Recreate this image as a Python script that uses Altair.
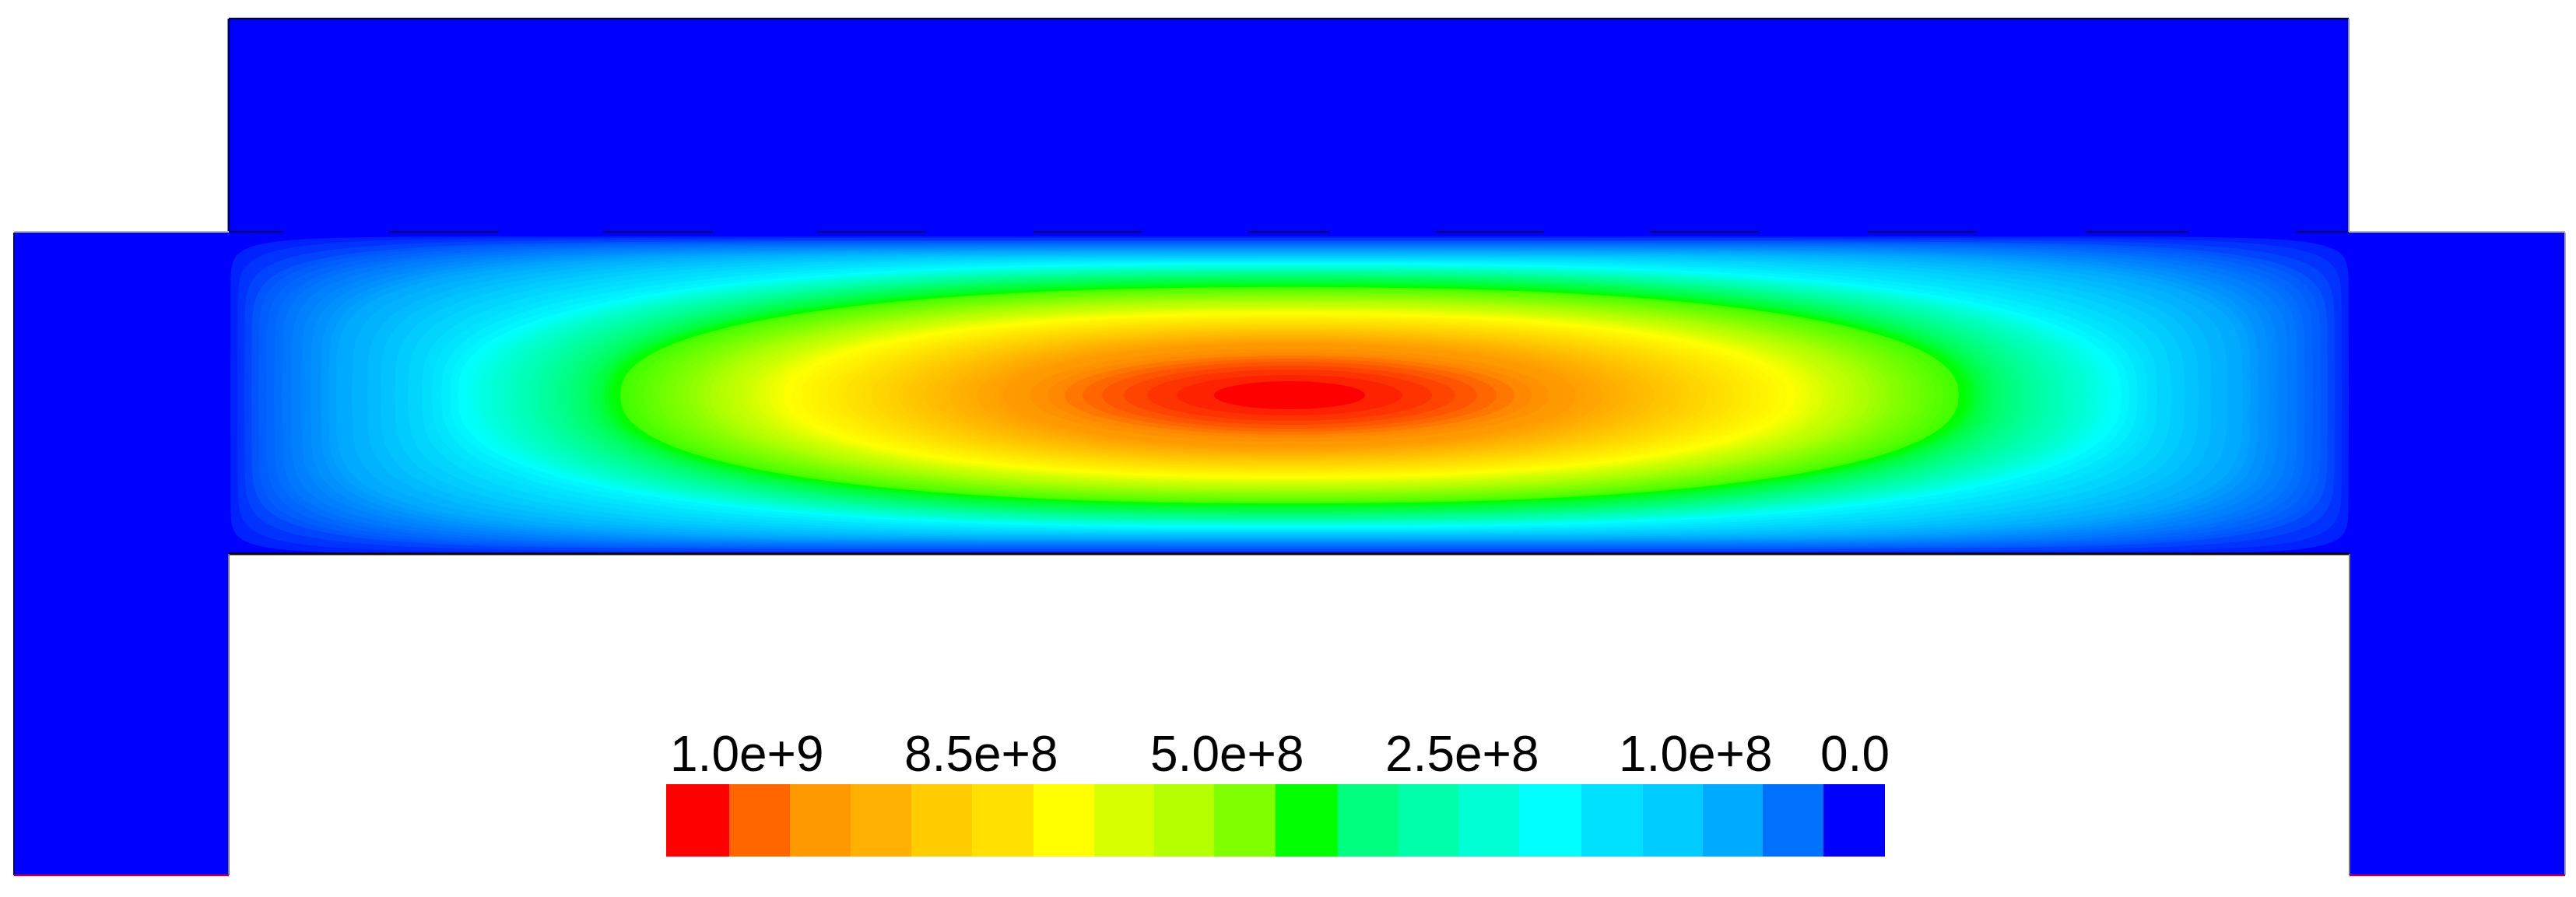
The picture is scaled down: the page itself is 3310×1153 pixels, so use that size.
import math
import altair as alt
import pandas as pd

alt.data_transformers.disable_max_rows()

# ---- solid body (picture coordinates) ----
body_x = [294, 18, 18, 3018]
body_x2 = [3018, 3296, 294, 3296]
body_y = [24, 299, 299, 299]
body_y2 = [299, 712, 1125, 1125]

# ---- contour levels, outermost to innermost ----
level_color = [
    # blue to cyan
    "#0022ff", "#0033ff", "#0044ff", "#0055ff", "#005eff", "#0066ff", "#006eff", "#0077ff",
    "#0080ff", "#0088ff", "#0090ff", "#0099ff", "#00a1ff", "#00aaff", "#00b2ff", "#00bbff",
    "#00c3ff", "#00ccff", "#00d4ff", "#00ddff", "#00e5ff", "#00eeff", "#00f6ff", "#00ffff",
    # cyan to green
    "#00fff6", "#00ffee", "#00ffe5", "#00ffdd", "#00ffd4", "#00ffcc", "#00ffc3", "#00ffbb",
    "#00ffb3", "#00ffaa", "#00ffa1", "#00ff99", "#00ff90", "#00ff88", "#00ff80", "#00ff77",
    "#00ff6f", "#00ff66", "#00ff5e", "#00ff55", "#00ff4c", "#00ff44", "#00ff33", "#00ff22",
    "#00ff11", "#00ff00",
    # green to yellow
    "#44ff00", "#4cff00", "#55ff00", "#5eff00", "#66ff00", "#6fff00", "#77ff00", "#80ff00",
    "#88ff00", "#91ff00", "#99ff00", "#a2ff00", "#aaff00", "#b3ff00", "#bbff00", "#c3ff00",
    "#ccff00", "#d4ff00", "#ddff00", "#e5ff00", "#eeff00", "#f6ff00", "#ffff00",
    # yellow to orange
    "#fffb00", "#fff700", "#fff300", "#ffef00", "#ffeb00", "#ffe700", "#ffe300", "#ffdf00",
    "#ffdb00", "#ffd700", "#ffd300", "#ffcf00", "#ffcb00", "#ffc700", "#ffc300", "#ffbf00",
    "#ffbb00", "#ffb700", "#ffb300", "#ffaf00", "#ffab00", "#ffa700", "#ffa300", "#ff9f00",
    "#ff9b00", "#ff9900",
    # orange to red
    "#ff9000", "#ff8800", "#ff7700", "#ff6600", "#ff5500", "#ff4400", "#ff3300", "#ff2200",
    "#ff0000",
]
level_half_width = [
    1361, 1352, 1343, 1334, 1325, 1315, 1305, 1295,
    1283, 1270, 1258, 1245, 1235, 1225, 1205, 1185,
    1168, 1150, 1133, 1115, 1102, 1090, 1079, 1069,
    1059, 1050, 1042, 1034, 1025, 1015, 1005, 995,
    985, 975, 965, 955, 947, 940, 932, 925,
    917, 910, 905, 900, 896, 892, 885, 880,
    875, 869,
    860, 850, 840, 830, 820, 810, 800, 790,
    780, 771, 762, 753, 745, 735, 725, 714,
    702, 693, 685, 676, 668, 659, 650,
    639, 628, 616, 605, 594, 583, 571, 560,
    549, 537, 526, 515, 503, 492, 481, 469,
    458, 447, 436, 424, 413, 402, 390, 379,
    368, 357,
    334, 311, 289, 266, 241, 213, 183, 145,
    97,
]
level_half_height = [
    204, 202, 200, 198, 196.7, 195.5, 194.2, 193,
    191.5, 190, 188.7, 187.5, 186.2, 185, 183.5, 182,
    180.5, 179, 177.5, 176, 174.5, 173, 171.5, 170,
    169, 168, 167, 166, 165, 164, 163, 162,
    161, 160, 159, 158, 157, 156, 155, 154,
    153, 152, 151, 150, 149, 148, 146, 144,
    142.5, 141,
    139, 138, 137, 135.5, 134, 132.5, 131, 129.5,
    128, 126.5, 125, 123.5, 122, 120.5, 119, 117,
    115, 113.5, 112, 110.5, 109, 107.5, 106,
    104.5, 103, 101.5, 100, 98.4, 96.8, 95.2, 93.7,
    92.2, 90.6, 89, 87.5, 86, 84.4, 82.8, 81.2,
    79.7, 78.2, 76.6, 75, 73.5, 72, 70.4, 68.8,
    67.4, 66,
    60, 55, 51, 47, 43, 38, 33, 26,
    18,
]
level_squareness = [
    18, 12, 9, 7.5, 7, 6.5, 6.1, 5.8,
    5.5, 5.2, 5, 4.8, 4.6, 4.4, 4.2, 4,
    3.8, 3.6, 3.4, 3.2, 3, 2.85, 2.7, 2.6,
    2.59, 2.58, 2.57, 2.56, 2.55, 2.54, 2.53, 2.52,
    2.51, 2.5, 2.49, 2.48, 2.47, 2.46, 2.45, 2.44,
    2.43, 2.42, 2.41, 2.4, 2.39, 2.38, 2.37, 2.36,
    2.36, 2.35,
    2.34, 2.33, 2.33, 2.32, 2.31, 2.31, 2.3, 2.29,
    2.29, 2.28, 2.27, 2.27, 2.26, 2.25, 2.25, 2.24,
    2.23, 2.23, 2.22, 2.21, 2.21, 2.2, 2.2,
    2.19, 2.19, 2.18, 2.18, 2.17, 2.17, 2.16, 2.16,
    2.15, 2.15, 2.14, 2.14, 2.13, 2.13, 2.12, 2.12,
    2.11, 2.11, 2.1, 2.1, 2.09, 2.09, 2.08, 2.08,
    2.07, 2.07,
    2.06, 2.05, 2.04, 2.03, 2.02, 2.0, 2.0, 2.0,
    2.0,
]
center_x = 1657
center_y = 508

# ---- colour bar ----
bar_color = [
    "#ff0000", "#ff6600", "#ff9900", "#ffb000", "#ffcc00", "#ffe000", "#ffff00", "#d8ff00", "#b4ff00", "#7fff00",
    "#00ff00", "#00ff80", "#00ffaa", "#00ffd4", "#00ffff", "#00e0ff", "#00ccff", "#00aaff", "#0070ff", "#0000ff",
]
bar_edges = [856, 937, 1015, 1093, 1171, 1249, 1328, 1406, 1483, 1560, 1639,
             1719, 1797, 1874, 1952, 2032, 2111, 2188, 2265, 2343, 2422]
bar_top, bar_bottom = 1008, 1101
bar_labels = ["1.0e+9", "8.5e+8", "5.0e+8", "2.5e+8", "1.0e+8", "0.0"]
bar_label_x = [861, 1162, 1478, 1780, 2080, 2339]
bar_label_y = 991

# ---- outline pieces: x, x2, y, y2, colour, width ----
edge_x = [294, 294, 18, 294, 3018, 3296, 294, 3018, 3019, 18, 3019, 18]
edge_x2 = [3018, 294, 18, 3018, 3018, 3296, 294, 3296, 3019, 294, 3296, 294]
edge_y = [24, 24, 299, 712, 24, 299, 712, 298, 712, 1125, 1125, 298]
edge_y2 = [24, 298, 1125, 712, 298, 1125, 1125, 298, 1125, 1125, 1125, 298]
edge_color = ["#000044", "#00006a", "#00006a", "#000000", "#8a8a9a", "#a8a8b8", "#777788",
              "#b8b8b8", "#777788", "#a80060", "#a80060", "#b8b8b8"]
edge_width = [2.5, 3, 2, 3, 2, 2, 2, 2, 2, 2.5, 2.5, 2]

dash_x = [295, 500, 775, 1050, 1328, 1604, 1845, 2120, 2400, 2680, 2950]
dash_x2 = [364, 641, 916, 1190, 1467, 1708, 1984, 2260, 2540, 2812, 3018]
dash_y = 298

X = alt.X("x:Q", scale=alt.Scale(domain=[8, 3302], nice=False, zero=False), axis=None)
Y = alt.Y("y:Q", scale=alt.Scale(domain=[1145, 8], nice=False, zero=False), axis=None)

body = pd.DataFrame({"x": body_x, "x2": body_x2, "y": body_y, "y2": body_y2})
layers = [alt.Chart(body).mark_rect(color="#0000ff").encode(X, Y, x2="x2:Q", y2="y2:Q")]

for color, a, b, n in zip(level_color, level_half_width, level_half_height, level_squareness):
    steps = 50
    pts = []
    for i in range(steps + 1):
        t = math.pi * (1 - i / steps)
        c, s = math.cos(t), math.sin(t)
        px = center_x + a * math.copysign(abs(c) ** (2 / n), c)
        py = b * abs(s) ** (2 / n)
        pts.append({"x": round(px, 2), "top": round(center_y - py, 2), "low": round(center_y + py, 2)})
    layers.append(
        alt.Chart(pd.DataFrame(pts)).mark_area(color=color, opacity=1, interpolate="linear").encode(
            X,
            alt.Y("top:Q", scale=alt.Scale(domain=[1145, 8], nice=False, zero=False), axis=None),
            alt.Y2("low:Q"),
        )
    )

bar = pd.DataFrame({
    "x": bar_edges[:-1], "x2": bar_edges[1:],
    "y": [bar_top] * len(bar_color), "y2": [bar_bottom] * len(bar_color),
    "color": bar_color,
})
labels = pd.DataFrame({"x": bar_label_x, "y": [bar_label_y] * len(bar_labels), "text": bar_labels})
edges = pd.DataFrame({"x": edge_x, "x2": edge_x2, "y": edge_y, "y2": edge_y2, "color": edge_color, "w": edge_width})
dashes = pd.DataFrame({"x": dash_x, "x2": dash_x2, "y": [dash_y] * len(dash_x), "y2": [dash_y] * len(dash_x)})

layers.append(alt.Chart(dashes).mark_rule(color="#00006a", strokeWidth=2).encode(X, Y, x2="x2:Q", y2="y2:Q"))
layers.append(alt.Chart(edges).mark_rule().encode(
    X, Y, x2="x2:Q", y2="y2:Q",
    color=alt.Color("color:N", scale=None),
    size=alt.Size("w:Q", scale=None),
))
layers.append(alt.Chart(bar).mark_rect().encode(X, Y, x2="x2:Q", y2="y2:Q", color=alt.Color("color:N", scale=None)))
layers.append(alt.Chart(labels).mark_text(
    align="left", baseline="alphabetic", font="Liberation Sans", fontSize=64, color="#000000"
).encode(X, Y, text="text:N"))

chart = alt.layer(*layers).properties(
    width=3294, height=1137, padding=0, background="#ffffff", autosize=alt.AutoSizeParams(type="none")
).configure_view(stroke=None)

chart.save("out.html", embed_options={"renderer": "svg", "actions": False})
